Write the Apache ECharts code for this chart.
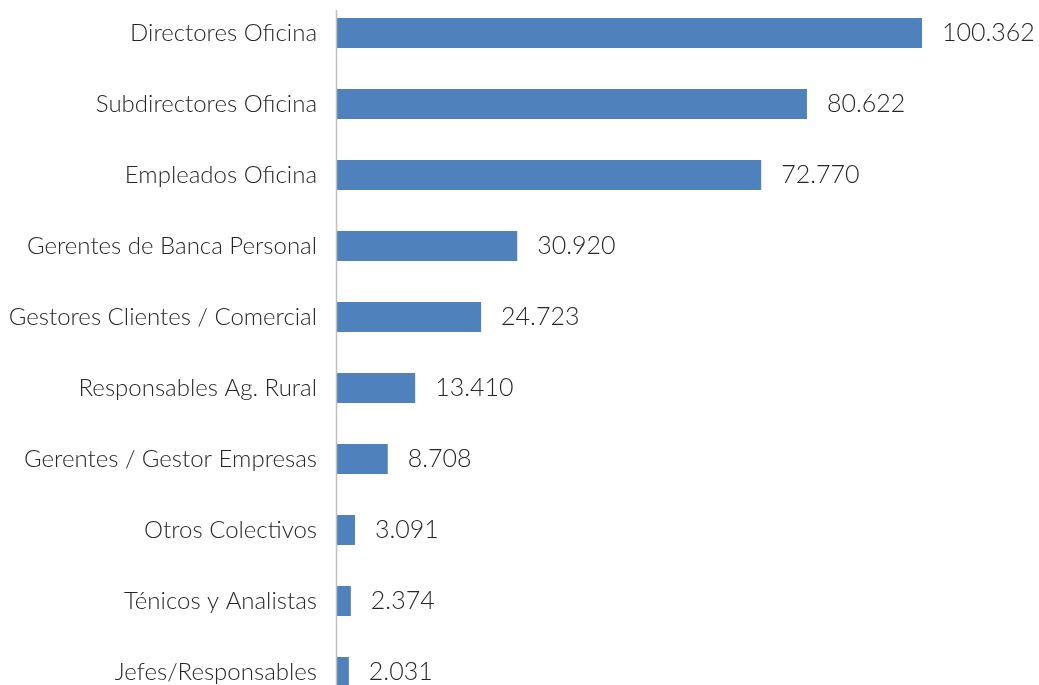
<!DOCTYPE html>
<html>
<head>
<meta charset="utf-8">
<script src="https://cdn.jsdelivr.net/npm/echarts@6/dist/echarts.min.js"></script>
<style>
  html, body { margin: 0; padding: 0; background: #ffffff; }
  #chart { width: 1039px; height: 685px; }
</style>
</head>
<body>
<div id="chart"></div>
<script>
// Colectivos, listed top to bottom
const categories = [
  'Directores Oficina',
  'Subdirectores Oficina',
  'Empleados Oficina',
  'Gerentes de Banca Personal',
  'Gestores Clientes / Comercial',
  'Responsables Ag. Rural',
  'Gerentes / Gestor Empresas',
  'Otros Colectivos',
  'Ténicos y Analistas',
  'Jefes/Responsables'
];
const values = [100362, 80622, 72770, 30920, 24723, 13410, 8708, 3091, 2374, 2031];

const FONT = 'Lato, "Open Sans", sans-serif';
const fmt = v => String(v).replace(/\B(?=(\d{3})+(?!\d))/g, '.');

const chart = echarts.init(document.getElementById('chart'), null, { renderer: 'canvas' });
chart.setOption({
  animation: false,
  backgroundColor: '#ffffff',
  grid: {
    left: 337, right: 2.5, top: -2.5, height: 710,
    containLabel: false, outerBoundsMode: 'none'
  },
  xAxis: {
    type: 'value', min: 0, max: 120000, show: false
  },
  yAxis: {
    type: 'category',
    inverse: true,
    data: categories,
    axisLine: { show: false },
    axisTick: { show: false },
    axisLabel: {
      margin: 20, color: '#262626', fontSize: 24, fontFamily: FONT, fontWeight: 300,
      padding: [5, 0, 0, 0]
    }
  },
  series: [{
    type: 'bar',
    data: values,
    barWidth: 30,
    itemStyle: { color: '#4F81BD' },
    label: {
      show: true, position: 'right', distance: 20,
      color: '#262626', fontSize: 25, fontFamily: FONT, fontWeight: 300,
      padding: [5, 0, 0, 0],
      formatter: p => fmt(p.value)
    }
  }]
});

// vertical baseline at value 0
const x0 = Math.round(chart.convertToPixel({ xAxisIndex: 0 }, 0)) - 0.5;
chart.setOption({
  graphic: [{
    type: 'line', z: 10,
    shape: { x1: x0, y1: 10, x2: x0, y2: 685 },
    style: { stroke: '#bfbfbf', lineWidth: 1.5 }
  }]
});
</script>
</body>
</html>
